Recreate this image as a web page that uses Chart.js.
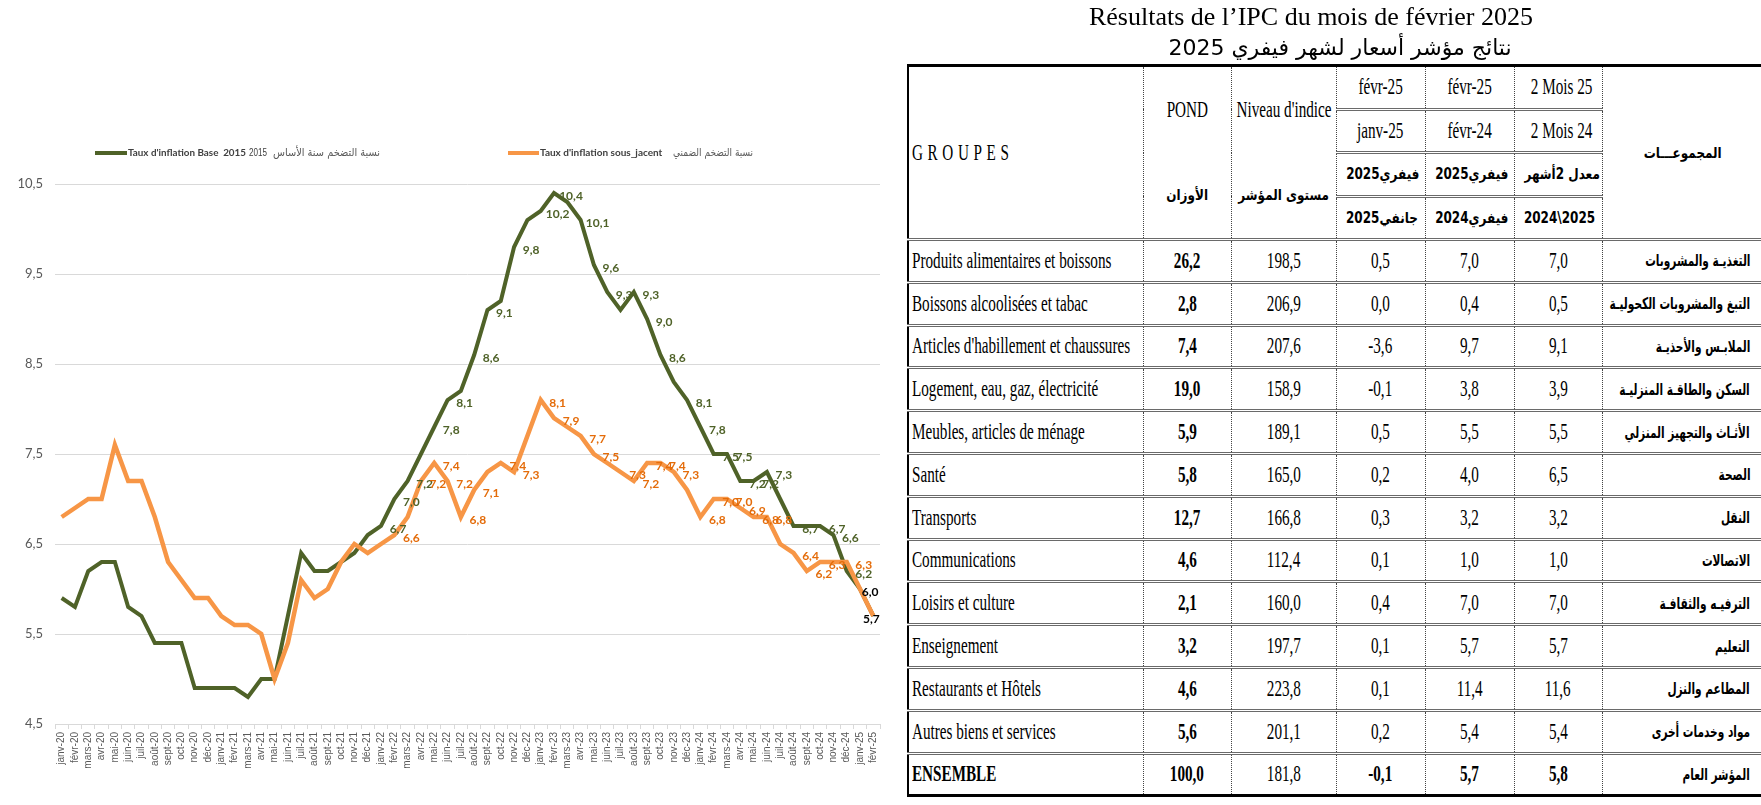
<!DOCTYPE html>
<html lang="fr">
<head>
<meta charset="utf-8">
<title>IPC février 2025</title>
<script src="https://cdn.jsdelivr.net/npm/chart.js@4.4.1/dist/chart.umd.min.js"></script>
<style>
  html, body { margin:0; padding:0; background:#fff; }
  body { position:relative; width:1761px; height:805px; overflow:hidden; }
  #graph { position:absolute; left:0; top:0; }
  .titre1 { position:absolute; left:891px; width:840px; top:3px; text-align:center;
            font:26px/28px 'Liberation Serif', serif; color:#000; white-space:nowrap; }
  .titre2 { position:absolute; left:920px; width:840px; top:33px; text-align:center; direction:rtl;
            font:22px/30px 'DejaVu Sans', sans-serif; color:#000; white-space:nowrap; }
  table { position:absolute; left:907px; top:64px; width:854px; border-collapse:collapse; table-layout:fixed;
          font-family:'Liberation Serif', serif; font-size:23px; color:#000; }
  td { padding:0; height:39.8px; text-align:center; vertical-align:middle; white-space:nowrap;
       border-left:1px dotted #444; border-bottom:3px double #6a6a6a; overflow:visible; }
  tr.entete td { height:40.5px; }
  td.premier { border-left:2px solid #000; text-align:left; padding-left:3px; }
  td.ar { direction:rtl; text-align:right; padding-right:12px; font-family:'DejaVu Sans', sans-serif; font-weight:bold; font-size:16px; }
  tr.haut td { border-top:3px solid #000; }
  tr.fin td { border-bottom:3px solid #000; }
  .c { display:inline-block; transform:scaleX(0.66); transform-origin:center; }
  .premier .c { transform-origin:left center; }
  .ar .c { transform-origin:right center; transform:scaleX(0.66); }
  .arh { font-family:'DejaVu Sans', sans-serif; font-weight:bold; font-size:15px; }
  .arh .c { transform:scaleX(0.8); }
  b { font-weight:bold; }
  .deux { display:flex; flex-direction:column; height:170px; }
  .deux div { flex:1; display:flex; align-items:center; justify-content:center; }
</style>
</head>
<body>
<canvas id="graph" width="900" height="805"></canvas>
<div class="titre1">Résultats de l’IPC du mois de février 2025</div>
<div class="titre2">نتائج مؤشر أسعار لشهر فيفري 2025</div>
<table id="tableau"></table>

<script>
// mois (axe des x)
const mois = ['janv-20','févr-20','mars-20','avr-20','mai-20','juin-20','juil-20','août-20','sept-20','oct-20','nov-20','déc-20',
  'janv-21','févr-21','mars-21','avr-21','mai-21','juin-21','juil-21','août-21','sept-21','oct-21','nov-21','déc-21',
  'janv-22','févr-22','mars-22','avr-22','mai-22','juin-22','juil-22','août-22','sept-22','oct-22','nov-22','déc-22',
  'janv-23','févr-23','mars-23','avr-23','mai-23','juin-23','juil-23','août-23','sept-23','oct-23','nov-23','déc-23',
  'janv-24','févr-24','mars-24','avr-24','mai-24','juin-24','juil-24','août-24','sept-24','oct-24','nov-24','déc-24',
  'janv-25','févr-25'];
// taux d'inflation base 2015
const inflation = [5.9,5.8,6.2,6.3,6.3,5.8,5.7,5.4,5.4,5.4,4.9,4.9,
  4.9,4.9,4.8,5.0,5.0,5.7,6.4,6.2,6.2,6.3,6.4,6.6,
  6.7,7.0,7.2,7.5,7.8,8.1,8.2,8.6,9.1,9.2,9.8,10.1,
  10.2,10.4,10.3,10.1,9.6,9.3,9.1,9.3,9.0,8.6,8.3,8.1,
  7.8,7.5,7.5,7.2,7.2,7.3,7.0,6.7,6.7,6.7,6.6,6.2,
  6.0,5.7];
// taux d'inflation sous-jacent
const sousJacent = [6.8,6.9,7.0,7.0,7.6,7.2,7.2,6.8,6.3,6.1,5.9,5.9,
  5.7,5.6,5.6,5.5,5.0,5.4,6.1,5.9,6.0,6.3,6.5,6.4,
  6.5,6.6,6.8,7.2,7.4,7.2,6.8,7.1,7.3,7.4,7.3,7.7,
  8.1,7.9,7.8,7.7,7.5,7.4,7.3,7.2,7.4,7.4,7.3,7.1,
  6.8,7.0,7.0,6.9,6.8,6.8,6.5,6.4,6.2,6.3,6.3,6.3,
  6.0,5.7];
// points avec etiquette
const etiqInflation = [24,25,26,28,29,31,32,34,36,37,39,40,41,43,44,45,47,48,49,50,51,52,53,55,57,58,59,60,61];
const etiqSousJacent = [25,27,28,29,30,31,33,34,36,37,39,40,42,43,44,45,46,48,49,50,51,52,53,55,56,57,59];
// axe y
const yMin = 4.5, yMax = 10.5, yPas = 1;

// tableau IPC
const groupesFr = ['Produits alimentaires et boissons','Boissons alcoolisées et tabac',"Articles d'habillement et chaussures",
  'Logement, eau, gaz, électricité','Meubles, articles de ménage','Santé','Transports','Communications',
  'Loisirs et culture','Enseignement','Restaurants et Hôtels','Autres biens et services','ENSEMBLE'];
const groupesAr = ['التغذيـة والمشروبات','التبغ والمشروبات الكحوليـة','الملابـس والأحذيـة','السكن والطاقـة المنزليـة',
  'الأثـاث والتجهيز المنزلي','الصحة','النقل','الاتصالات','الترفيـه والثقافـة','التعليم','المطاعم والنزل',
  'مواد وخدمات أخرى','المؤشر العام'];
const ponderation = [26.2,2.8,7.4,19.0,5.9,5.8,12.7,4.6,2.1,3.2,4.6,5.6,100.0];
const niveauIndice = [198.5,206.9,207.6,158.9,189.1,165.0,166.8,112.4,160.0,197.7,223.8,201.1,181.8];
const varMensuelle = [0.5,0.0,-3.6,-0.1,0.5,0.2,0.3,0.1,0.4,0.1,0.1,0.2,-0.1];
const varAnnuelle = [7.0,0.4,9.7,3.8,5.5,4.0,3.2,1.0,7.0,5.7,11.4,5.4,5.7];
const varDeuxMois = [7.0,0.5,9.1,3.9,5.5,6.5,3.2,1.0,7.0,5.7,11.6,5.4,5.8];

const vert = '#4f6228', orange = '#f79646';
const fmt = v => v.toFixed(1).replace('.', ',');

// ---- tableau
function span(t) { return '<span class="c">' + t + '</span>'; }
let html = '<colgroup><col style="width:235px"><col style="width:88px"><col style="width:105px">' +
  '<col style="width:89px"><col style="width:89px"><col style="width:88px"><col style="width:160px"></colgroup>';
html += '<tr class="haut entete"><td rowspan="4" class="premier"><span class="c" style="letter-spacing:7px">GROUPES</span></td>' +
  '<td rowspan="4"><div class="deux"><div>' + span('POND') + '</div><div class="arh">' + span('الأوزان') + '</div></div></td>' +
  '<td rowspan="4"><div class="deux"><div>' + span("Niveau d'indice") + '</div><div class="arh">' + span('مستوى المؤشر') + '</div></div></td>' +
  '<td>' + span('févr-25') + '</td><td>' + span('févr-25') + '</td><td>' + span('2 Mois 25') + '</td>' +
  '<td rowspan="4" class="arh" style="text-align:center">' + span('المجموعـــات') + '</td></tr>';
html += '<tr class="entete"><td>' + span('janv-25') + '</td><td>' + span('févr-24') + '</td><td>' + span('2 Mois 24') + '</td></tr>';
html += '<tr class="entete"><td class="arh">' + span('فيفري2025') + '</td><td class="arh">' + span('فيفري2025') + '</td><td class="arh">' + span('معدل 2أشهر') + '</td></tr>';
html += '<tr class="entete"><td class="arh">' + span('جانفي2025') + '</td><td class="arh">' + span('فيفري2024') + '</td><td class="arh" dir="ltr">' + span('2024\\2025') + '</td></tr>';
groupesFr.forEach((g, i) => {
  const last = i === groupesFr.length - 1;
  const gras = v => last ? '<b>' + v + '</b>' : v;
  html += '<tr' + (last ? ' class="fin"' : '') + '>' +
    '<td class="premier">' + span(last ? '<b>' + g + '</b>' : g) + '</td>' +
    '<td>' + span('<b>' + fmt(ponderation[i]) + '</b>') + '</td>' +
    '<td>' + span(fmt(niveauIndice[i])) + '</td>' +
    '<td>' + span(gras(fmt(varMensuelle[i]))) + '</td>' +
    '<td>' + span(gras(fmt(varAnnuelle[i]))) + '</td>' +
    '<td>' + span(gras(fmt(varDeuxMois[i]))) + '</td>' +
    '<td class="ar">' + span(groupesAr[i]) + '</td></tr>';
});
document.getElementById('tableau').innerHTML = html;

// ---- legende dessinee a la main
const legende = {
  id: 'legende',
  afterDraw(chart) {
    const ctx = chart.ctx;
    const items = [
      { couleur: vert, x1: 95, x2: 127, morceaux: [
        { t: "Taux d'inflation Base  2015", f: "bold 10px Lato", x: 128, w: 118, c: '#404040' },
        { t: '2015', f: "11px 'Liberation Sans'", x: 249, w: 18, c: '#404040' },
        { t: 'نسبة التضخم سنة الأساس', f: "11px 'DejaVu Sans'", x: 273, w: 107, c: '#595959' } ] },
      { couleur: orange, x1: 508, x2: 539, morceaux: [
        { t: "Taux d'inflation sous_jacent", f: "bold 10px Lato", x: 540, w: 128, c: '#404040' },
        { t: 'نسبة التضخم الضمني', f: "11px 'DejaVu Sans'", x: 673, w: 80, c: '#595959' } ] }
    ];
    ctx.save();
    items.forEach(it => {
      ctx.strokeStyle = it.couleur;
      ctx.lineWidth = 4;
      ctx.beginPath(); ctx.moveTo(it.x1, 153); ctx.lineTo(it.x2, 153); ctx.stroke();
      it.morceaux.forEach(m => {
        ctx.font = m.f;
        ctx.fillStyle = m.c;
        ctx.textAlign = 'left';
        ctx.textBaseline = 'middle';
        ctx.fillText(m.t, m.x, 153, m.w);
      });
    });
    ctx.restore();
  }
};

// ---- etiquettes de donnees
const etiquettes = {
  id: 'etiquettes',
  afterDatasetsDraw(chart) {
    const ctx = chart.ctx;
    ctx.save();
    ctx.font = "bold 12px Lato";
    ctx.textAlign = 'center';
    ctx.textBaseline = 'middle';
    chart.data.datasets.forEach((ds, di) => {
      const meta = chart.getDatasetMeta(di);
      ds.etiq.forEach(i => {
        const p = meta.data[i];
        let dx = 17, dy = 3;
        ctx.fillStyle = ds.couleurTexte;
        if (i >= 60) { ctx.fillStyle = '#000'; dx = i === 60 ? 10 : -2; dy = 3; }
        ctx.fillText(fmt(ds.data[i]), p.x + dx, p.y + dy);
      });
    });
    ctx.restore();
  }
};

new Chart(document.getElementById('graph'), {
  type: 'line',
  data: {
    labels: mois,
    datasets: [{
      label: "Taux d'inflation Base 2015",
      data: inflation,
      borderColor: vert,
      borderWidth: 4,
      pointRadius: 0,
      order: 2,
      etiq: etiqInflation,
      couleurTexte: vert
    }, {
      label: "Taux d'inflation sous_jacent",
      data: sousJacent,
      borderColor: orange,
      borderWidth: 4.5,
      pointRadius: 0,
      order: 1,
      etiq: etiqSousJacent,
      couleurTexte: '#e46c0a'
    }]
  },
  plugins: [legende, etiquettes],
  options: {
    responsive: false,
    animation: false,
    events: [],
    devicePixelRatio: 1,
    layout: { padding: { top: 184, right: 20, bottom: 0, left: 0 } },
    plugins: { legend: { display: false }, tooltip: { enabled: false } },
    scales: {
      x: {
        offset: true,
        grid: { drawOnChartArea: false, drawTicks: true, tickLength: 5, color: '#d9d9d9', offset: true },
        border: { color: '#d9d9d9' },
        ticks: { autoSkip: false, maxRotation: 90, minRotation: 90, padding: 3,
                 color: '#595959', font: { size: 10, family: "'Liberation Sans'" } },
        afterFit: s => { s.height = 81; }
      },
      y: {
        min: yMin, max: yMax,
        grid: { color: '#d9d9d9', drawTicks: false },
        border: { display: false },
        ticks: { stepSize: yPas, padding: 12, color: '#595959',
                 font: { size: 13, family: 'Lato' },
                 callback: v => fmt(v) },
        afterFit: s => { s.width = 55; }
      }
    }
  }
});
</script>
</body>
</html>
